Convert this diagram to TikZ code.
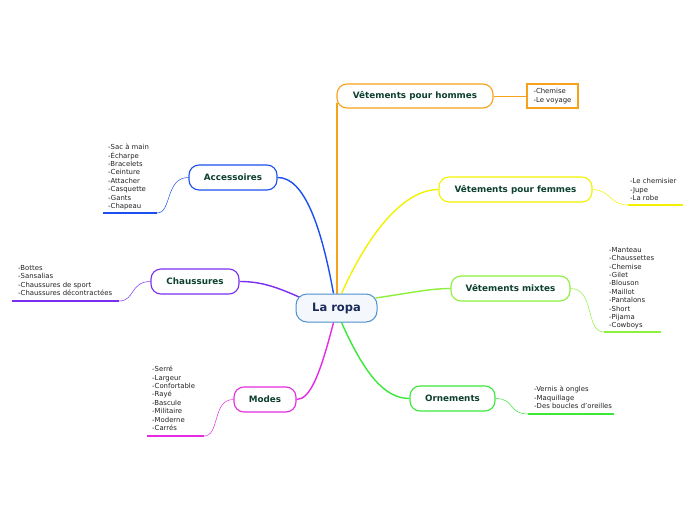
\documentclass[tikz,border=0pt]{standalone}
\usepackage{fontspec}
\setmainfont{DejaVu Sans}
\usetikzlibrary{backgrounds}
\definecolor{corange}{HTML}{F7A21B}
\definecolor{cyellow}{HTML}{F2F200}
\definecolor{clgreen}{HTML}{8CF03C}
\definecolor{cgreen}{HTML}{3AE83A}
\definecolor{cmag}{HTML}{E52BE5}
\definecolor{cpurple}{HTML}{7A2FF0}
\definecolor{cblue}{HTML}{1C4FEF}
\definecolor{croot}{HTML}{4A8FD0}
\definecolor{ctitle}{HTML}{0E4030}
\definecolor{crtext}{HTML}{1A2A5A}
\definecolor{cleaf}{HTML}{222222}
\tikzset{
  topic/.style={draw, line width=1.1pt, rounded corners=10pt, fill=white, minimum height=25pt, inner sep=0pt,
    font=\fontsize{8.8}{10}\selectfont\bfseries, text=ctitle},
  leaf/.style={anchor=north west, inner sep=0pt, align=left, text=cleaf, font=\fontsize{6.9}{8.4}\selectfont},
  branch/.style={line width=1.4pt},
  thin/.style={line width=0.5pt},
  uline/.style={line width=2.2pt},
}
\begin{document}
\begin{tikzpicture}[x=1pt,y=-1pt]
\useasboundingbox (0,0) rectangle (696,520);
% root
\node[draw=croot, line width=1pt, rounded corners=11pt, fill=croot!6, minimum width=81pt, minimum height=28pt, inner sep=0pt,
  font=\fontsize{11.5}{13}\selectfont\bfseries, text=crtext] (root) at (336.5,308) {La ropa};
% topics
\node[topic, draw=corange, minimum width=156pt, minimum height=24pt] (hom) at (415,96) {Vêtements pour hommes};
\node[draw=corange, line width=1.8pt, minimum width=51pt, minimum height=24pt, inner sep=0pt, align=left,
  text=cleaf, font=\fontsize{6.9}{8.4}\selectfont] (homl) at (552.5,96) {-Chemise\\-Le voyage};
\node[topic, draw=cyellow, minimum width=153pt] (fem) at (515.5,189.5) {Vêtements pour femmes};
\node[topic, draw=clgreen, minimum width=119pt] (mix) at (510.5,288.5) {Vêtements mixtes};
\node[topic, draw=cgreen, minimum width=85pt] (orn) at (452.5,398.5) {Ornements};
\node[topic, draw=cmag, minimum width=62pt] (mod) at (265,399.5) {Modes};
\node[topic, draw=cpurple, minimum width=88pt] (cha) at (195,281.5) {Chaussures};
\node[topic, draw=cblue, minimum width=88pt] (acc) at (233,177.5) {Accessoires};
% leaves
\node[leaf] (feml) at (630,178.5) {-Le chemisier\\-Jupe\\-La robe};
\node[leaf] (mixl) at (609,247) {-Manteau\\-Chaussettes\\-Chemise\\-Gilet\\-Blouson\\-Maillot\\-Pantalons\\-Short\\-Pijama\\-Cowboys};
\node[leaf] (ornl) at (534,386) {-Vernis à ongles\\-Maquillage\\-Des boucles d'oreilles};
\node[leaf] (modl) at (152,366) {-Serré\\-Largeur\\-Confortable\\-Rayé\\-Bascule\\-Militaire\\-Moderne\\-Carrés};
\node[leaf] (chal) at (18,265) {-Bottes\\-Sansalias\\-Chaussures de sport\\-Chaussures décontractées};
\node[leaf] (accl) at (108,144) {-Sac à main\\-Écharpe\\-Bracelets\\-Ceinture\\-Attacher\\-Casquette\\-Gants\\-Chapeau};
% underline coordinates
\coordinate (femu1) at (628,205); \coordinate (femu2) at (683,205);
\coordinate (mixu1) at (604,332); \coordinate (mixu2) at (661,332);
\coordinate (ornu1) at (528,414); \coordinate (ornu2) at (614,414);
\coordinate (modu1) at (204,436); \coordinate (modu2) at (147,436);
\coordinate (chau1) at (119,301); \coordinate (chau2) at (12,301);
\coordinate (accu1) at (157,213); \coordinate (accu2) at (103,213);
\begin{scope}[on background layer]
% branches from root
\draw[branch, corange] ([xshift=0.5pt]root.north) -- ([xshift=0.5pt]root.north |- hom.south west) -- ++(0,-6);
\draw[branch, cblue] ([xshift=-3pt]root.north) .. controls (322,230) and (305,177) .. (acc.east);
\draw[branch, cyellow] ([xshift=5pt]root.north) .. controls (370,230) and (405,189.5) .. (fem.west);
\draw[branch, clgreen] ([xshift=-2pt,yshift=10pt]root.east) .. controls (410,293) and (430,288.5) .. (mix.west);
\draw[branch, cgreen] ([xshift=5pt]root.south) .. controls (365,375) and (385,398.5) .. (orn.west);
\draw[branch, cmag] ([xshift=-3pt]root.south) .. controls (320,375) and (310,399.5) .. (mod.east);
\draw[branch, cpurple] ([xshift=8pt,yshift=9pt]root.west) .. controls (275,286) and (260,281.5) .. (cha.east);
% leaf connectors
\draw[thin, corange] (hom.east) -- (homl.west);
\draw[thin, cyellow] (fem.east) .. controls (610,189.5) and (610,205) .. (femu1);
\draw[uline, cyellow] (femu1) -- (femu2);
\draw[thin, clgreen] (mix.east) .. controls (595,288.5) and (585,332) .. (mixu1);
\draw[uline, clgreen] (mixu1) -- (mixu2);
\draw[thin, cgreen] (orn.east) .. controls (515,398.5) and (508,414) .. (ornu1);
\draw[uline, cgreen] (ornu1) -- (ornu2);
\draw[thin, cmag] (mod.west) .. controls (212,399.5) and (220,436) .. (modu1);
\draw[uline, cmag] (modu1) -- (modu2);
\draw[thin, cpurple] (cha.west) .. controls (130,281.5) and (135,301) .. (chau1);
\draw[uline, cpurple] (chau1) -- (chau2);
\draw[thin, cblue] (acc.west) .. controls (165,177.5) and (172,213) .. (accu1);
\draw[uline, cblue] (accu1) -- (accu2);
\end{scope}
\end{tikzpicture}
\end{document}
